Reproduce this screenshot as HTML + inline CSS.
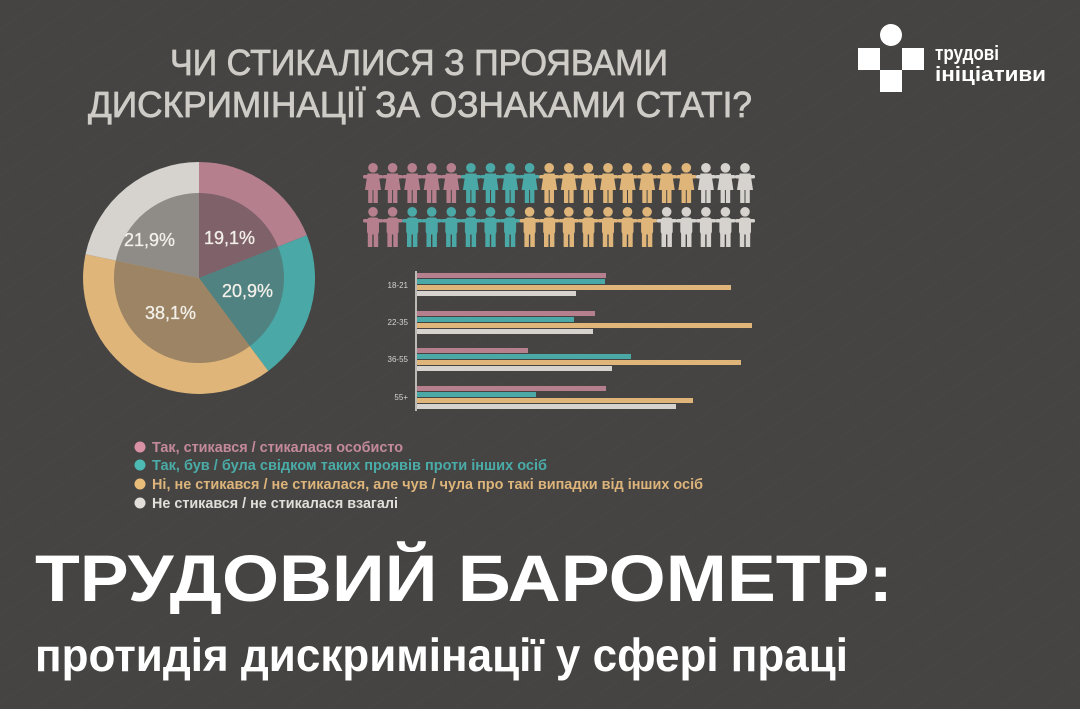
<!DOCTYPE html>
<html><head><meta charset="utf-8"><style>
html,body{margin:0;padding:0;background:#454443;}
svg{display:block;}
text{font-family:"Liberation Sans",sans-serif;}
</style></head><body>
<svg width="1080" height="709" viewBox="0 0 1080 709" xmlns="http://www.w3.org/2000/svg">
<defs>
<pattern id="bg" width="24" height="24" patternUnits="userSpaceOnUse" patternTransform="rotate(-35)">
<rect width="24" height="24" fill="#454443"/>
<line x1="0" y1="0" x2="24" y2="0" stroke="#4a4948" stroke-width="1"/>
</pattern>
<g id="p">
<circle cx="0" cy="4.8" r="4.8"/>
<rect x="-6" y="10.5" width="12" height="17" rx="3"/>
<rect x="-10" y="12" width="20" height="3.5" rx="1.5"/>
<rect x="-5.2" y="25" width="4.5" height="15"/>
<rect x="0.7" y="25" width="4.5" height="15"/>
</g>
<g id="f">
<circle cx="0" cy="4.8" r="4.8"/>
<path d="M-5.5 10.5 H5.5 L8 27 H-8 Z"/>
<rect x="-10" y="12" width="20" height="3.5" rx="1.5"/>
<rect x="-4.8" y="25" width="4.3" height="15"/>
<rect x="0.5" y="25" width="4.3" height="15"/>
</g>
</defs>
<rect width="1080" height="709" fill="url(#bg)"/>

<!-- Title -->
<g stroke="#cfccc7" stroke-width="0.8">
<text x="170" y="75" font-size="36" fill="#cfccc7" textLength="498" lengthAdjust="spacingAndGlyphs">ЧИ СТИКАЛИСЯ З ПРОЯВАМИ</text>
<text x="88" y="117" font-size="36" fill="#cfccc7" textLength="664" lengthAdjust="spacingAndGlyphs">ДИСКРИМІНАЦІЇ ЗА ОЗНАКАМИ СТАТІ?</text>
</g>

<!-- Logo -->
<circle cx="891" cy="35" r="11" fill="#fff"/>
<rect x="858" y="48" width="22" height="22" fill="#fff"/>
<rect x="902" y="48" width="22" height="22" fill="#fff"/>
<rect x="880" y="70" width="22" height="22" fill="#fff"/>
<text x="935" y="60" font-size="20" font-weight="bold" fill="#fff" textLength="64" lengthAdjust="spacingAndGlyphs">трудові</text>
<text x="935" y="81" font-size="20" font-weight="bold" fill="#fff" textLength="111" lengthAdjust="spacingAndGlyphs">ініціативи</text>

<!-- Pie -->
<g transform="translate(199,278)">
<path d="M0 0 L0 -116 A116 116 0 0 1 107.9 -42.7 Z" fill="#b57f8e"/>
<path d="M0 0 L107.9 -42.7 A116 116 0 0 1 69.3 93.0 Z" fill="#4aa9a6"/>
<path d="M0 0 L69.3 93.0 A116 116 0 0 1 -113.5 -23.8 Z" fill="#dfb57a"/>
<path d="M0 0 L-113.5 -23.8 A116 116 0 0 1 0 -116 Z" fill="#d6d3cf"/>
<path d="M0 0 L0 -85 A85 85 0 0 1 79.0 -31.3 Z" fill="#7f6169"/>
<path d="M0 0 L79.0 -31.3 A85 85 0 0 1 50.8 68.2 Z" fill="#4f8280"/>
<path d="M0 0 L50.8 68.2 A85 85 0 0 1 -83.2 -17.4 Z" fill="#9c8464"/>
<path d="M0 0 L-83.2 -17.4 A85 85 0 0 1 0 -85 Z" fill="#8f8c88"/>
</g>
<g font-size="18" fill="#f2efe9" stroke="#f2efe9" stroke-width="0.3">
<text x="124" y="246">21,9%</text>
<text x="204" y="244">19,1%</text>
<text x="222" y="297">20,9%</text>
<text x="145" y="319">38,1%</text>
</g>

<!-- People -->
<g fill="#b57f8e">
<use href="#f" x="373" y="163"/><use href="#f" x="392.6" y="163"/><use href="#f" x="412.2" y="163"/><use href="#f" x="431.7" y="163"/><use href="#f" x="451.3" y="163"/>
</g>
<g fill="#4aa9a6">
<use href="#f" x="470.9" y="163"/><use href="#f" x="490.5" y="163"/><use href="#f" x="510.1" y="163"/><use href="#f" x="529.6" y="163"/>
</g>
<g fill="#dfb57a">
<use href="#f" x="549.2" y="163"/><use href="#f" x="568.8" y="163"/><use href="#f" x="588.4" y="163"/><use href="#f" x="608" y="163"/><use href="#f" x="627.5" y="163"/><use href="#f" x="647.1" y="163"/><use href="#f" x="666.7" y="163"/><use href="#f" x="686.3" y="163"/>
</g>
<g fill="#d6d3cf">
<use href="#f" x="705.9" y="163"/><use href="#f" x="725.4" y="163"/><use href="#f" x="745" y="163"/>
</g>
<g fill="#b57f8e">
<use href="#p" x="373" y="207"/><use href="#p" x="392.6" y="207"/>
</g>
<g fill="#4aa9a6">
<use href="#p" x="412.2" y="207"/><use href="#p" x="431.7" y="207"/><use href="#p" x="451.3" y="207"/><use href="#p" x="470.9" y="207"/><use href="#p" x="490.5" y="207"/><use href="#p" x="510.1" y="207"/>
</g>
<g fill="#dfb57a">
<use href="#p" x="529.6" y="207"/><use href="#p" x="549.2" y="207"/><use href="#p" x="568.8" y="207"/><use href="#p" x="588.4" y="207"/><use href="#p" x="608" y="207"/><use href="#p" x="627.5" y="207"/><use href="#p" x="647.1" y="207"/>
</g>
<g fill="#d6d3cf">
<use href="#p" x="666.7" y="207"/><use href="#p" x="686.3" y="207"/><use href="#p" x="705.9" y="207"/><use href="#p" x="725.4" y="207"/><use href="#p" x="745" y="207"/>
</g>

<!-- Bars -->
<rect x="415" y="271" width="2" height="140" fill="#bdbab5"/>
<g font-size="8" fill="#d6d3cf" text-anchor="end">
<text x="408" y="288">18-21</text>
<text x="408" y="325">22-35</text>
<text x="408" y="362">36-55</text>
<text x="408" y="400">55+</text>
</g>
<g>
<rect x="417" y="273" width="189" height="5" fill="#b57f8e"/>
<rect x="417" y="279" width="188" height="5" fill="#4aa9a6"/>
<rect x="417" y="285" width="314" height="5" fill="#dfb57a"/>
<rect x="417" y="291" width="159" height="5" fill="#d6d3cf"/>
<rect x="417" y="311" width="178" height="5" fill="#b57f8e"/>
<rect x="417" y="317" width="157" height="5" fill="#4aa9a6"/>
<rect x="417" y="323" width="335" height="5" fill="#dfb57a"/>
<rect x="417" y="329" width="176" height="5" fill="#d6d3cf"/>
<rect x="417" y="348" width="111" height="5" fill="#b57f8e"/>
<rect x="417" y="354" width="214" height="5" fill="#4aa9a6"/>
<rect x="417" y="360" width="324" height="5" fill="#dfb57a"/>
<rect x="417" y="366" width="195" height="5" fill="#d6d3cf"/>
<rect x="417" y="386" width="189" height="5" fill="#b57f8e"/>
<rect x="417" y="392" width="119" height="5" fill="#4aa9a6"/>
<rect x="417" y="398" width="276" height="5" fill="#dfb57a"/>
<rect x="417" y="404" width="259" height="5" fill="#d6d3cf"/>
</g>

<!-- Legend -->
<circle cx="140" cy="447" r="5.5" fill="#d891a5"/>
<circle cx="140" cy="465" r="5.5" fill="#4dbab4"/>
<circle cx="140" cy="484" r="5.5" fill="#e8bd7a"/>
<circle cx="140" cy="503" r="5.5" fill="#e2dfda"/>
<g font-size="14.5" font-weight="bold">
<text x="152" y="452" fill="#c48a9c" textLength="251" lengthAdjust="spacingAndGlyphs">Так, стикався / стикалася особисто</text>
<text x="152" y="470" fill="#4aaba7" textLength="395" lengthAdjust="spacingAndGlyphs">Так, був / була свідком таких проявів проти інших осіб</text>
<text x="152" y="489" fill="#ddb47a" textLength="551" lengthAdjust="spacingAndGlyphs">Ні, не стикався / не стикалася, але чув / чула про такі випадки від інших осіб</text>
<text x="152" y="508" fill="#e2dfda" textLength="246" lengthAdjust="spacingAndGlyphs">Не стикався / не стикалася взагалі</text>
</g>

<!-- Big title -->
<text x="35" y="601" font-size="66" font-weight="bold" fill="#fff" textLength="858" lengthAdjust="spacingAndGlyphs">ТРУДОВИЙ БАРОМЕТР:</text>
<text x="35" y="671" font-size="46" font-weight="bold" fill="#fff" textLength="813" lengthAdjust="spacingAndGlyphs">протидія дискримінації у сфері праці</text>
</svg>
</body></html>
